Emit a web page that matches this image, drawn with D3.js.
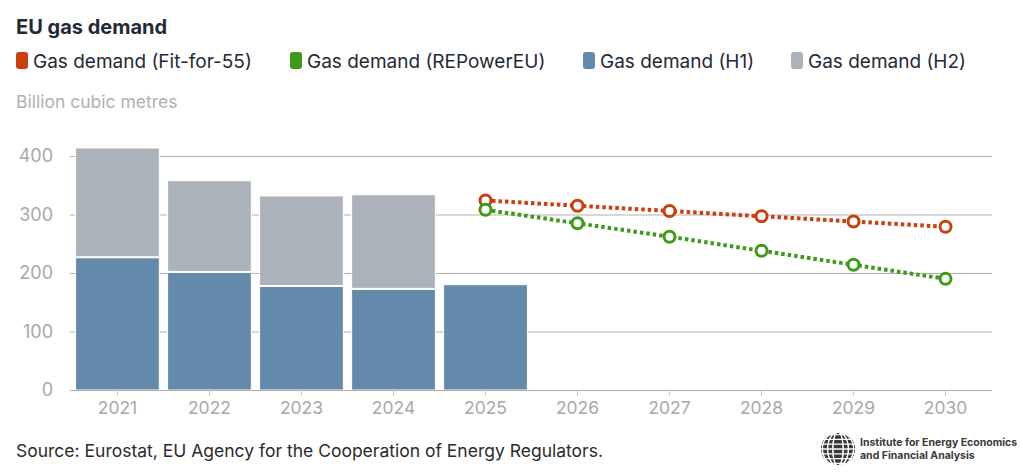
<!DOCTYPE html>
<html><head><meta charset="utf-8">
<script src="https://cdn.jsdelivr.net/npm/d3@7"></script>
<style>body{margin:0;background:#fff;font-family:Inter,"Noto Sans",sans-serif;}</style>
</head><body>
<svg id="c" width="1023" height="475"></svg>
<script>
const years = ["2021","2022","2023","2024","2025","2026","2027","2028","2029","2030"];
const h1Years = ["2021","2022","2023","2024","2025"];
const h1Values = [226, 201, 177, 172, 180];
const h2Years = ["2021","2022","2023","2024"];
const h2Values = [186, 155, 153, 160];
const lineYears = ["2025","2026","2027","2028","2029","2030"];
const fitFor55 = [324, 315, 306, 297, 288, 279];
const rePowerEU = [308, 285, 262, 238, 214, 190];
const yTicks = [0, 100, 200, 300, 400];
const legendLabels = ["Gas demand (Fit-for-55)","Gas demand (REPowerEU)","Gas demand (H1)","Gas demand (H2)"];

const C = {fit:"#c9400e", rep:"#3e9b1a", h1:"#6389ab", h2:"#abb2b9", grid:"#b0b0b0", tick:"#a8a8a8", text:"#1f2a36"};
const svg = d3.select("#c");

svg.append("text").attr("x",16).attr("y",34).attr("font-size",20).attr("font-weight",700).attr("fill",C.text).text("EU gas demand");

const legendX = [16, 290, 583, 791];
const legendCol = [C.fit, C.rep, C.h1, C.h2];
legendLabels.forEach((l,i)=>{
  const g = svg.append("g").attr("transform",`translate(${legendX[i]},0)`);
  g.append("rect").attr("x",0).attr("y",52).attr("width",12).attr("height",17).attr("rx",3).attr("fill",legendCol[i]);
  g.append("text").attr("x",17).attr("y",67.5).attr("font-size",19).attr("fill",C.text).text(l);
});

svg.append("text").attr("x",16).attr("y",108).attr("font-size",17.5).attr("fill","#b0b0b0").text("Billion cubic metres");

const x = d3.scaleBand().domain(years).range([71, 992]).paddingInner(0.09).paddingOuter(0.05);
const y = d3.scaleLinear().domain([0, 400]).range([390, 156]);

// gridlines
const yAxis = d3.axisLeft(y).tickValues(yTicks).tickSize(-(992-70)).tickPadding(16);
const gy = svg.append("g").attr("transform","translate(70,0)").call(yAxis);
gy.select(".domain").remove();
gy.selectAll(".tick line").attr("stroke",C.grid).attr("stroke-width",1);
gy.selectAll(".tick text").attr("font-size",18).attr("fill",C.tick).attr("font-family","Inter").attr("x",-17);
gy.selectAll(".tick").filter(d=>d===0).select("line").remove();

// bars
const h1Map = new Map(h1Years.map((d,i)=>[d,h1Values[i]]));
svg.append("g").selectAll("rect").data(h1Years).join("rect")
  .attr("x",d=>x(d)).attr("width",x.bandwidth())
  .attr("y",d=>y(h1Map.get(d))).attr("height",d=>y(0)-y(h1Map.get(d)))
  .attr("fill",C.h1).attr("stroke","#fff").attr("stroke-width",1);
svg.append("g").selectAll("rect").data(h2Years).join("rect")
  .attr("x",d=>x(d)).attr("width",x.bandwidth())
  .attr("y",(d,i)=>y(h1Map.get(d)+h2Values[i])).attr("height",(d,i)=>y(0)-y(h2Values[i]))
  .attr("transform","translate(0,-1)")
  .attr("fill",C.h2).attr("stroke","#fff").attr("stroke-width",1);

// x axis
const xAxis = d3.axisBottom(x).tickSize(6).tickPadding(6);
const gx = svg.append("g").attr("transform","translate(0,390)").call(xAxis);
gx.select(".domain").attr("stroke","#b0b0b0").attr("d","M70,0.5H992");
gx.selectAll(".tick line").attr("stroke","#c8c8c8");
gx.selectAll(".tick text").attr("font-size",17.5).attr("fill",C.tick).attr("font-family","Inter");

// lines
const cx = d=>x(d)+x.bandwidth()/2;
[[fitFor55,C.fit],[rePowerEU,C.rep]].forEach(([vals,col])=>{
  const pts = lineYears.map((d,i)=>[d,vals[i]]);
  svg.append("path").datum(pts).attr("fill","none").attr("stroke",col).attr("stroke-width",4)
    .attr("stroke-dasharray","3.5,3")
    .attr("d",d3.line().x(p=>cx(p[0])).y(p=>y(p[1])));
  svg.append("g").selectAll("circle").data(pts).join("circle")
    .attr("cx",p=>cx(p[0])).attr("cy",p=>y(p[1])).attr("r",5.5)
    .attr("fill","#fff").attr("stroke",col).attr("stroke-width",3);
});

svg.append("text").attr("x",16).attr("y",457).attr("font-size",17.5).attr("fill","#2b2b2b").text("Source: Eurostat, EU Agency for the Cooperation of Energy Regulators.");

// logo
const lg = svg.append("g").attr("transform","translate(838,449)");
lg.append("circle").attr("r",17).attr("fill","#3a3a3a");
for(let i=-3;i<=3;i++){
  lg.append("line").attr("x1",-17).attr("x2",17).attr("y1",i*4.8).attr("y2",i*4.8).attr("stroke","#fff").attr("stroke-width",1.3);
  lg.append("ellipse").attr("rx",Math.abs(i)*5.2).attr("ry",17).attr("fill","none").attr("stroke","#fff").attr("stroke-width",1.1);
}
svg.append("text").attr("x",860).attr("y",446).attr("font-size",10.5).attr("font-weight",700).attr("fill","#3a3a3a").text("Institute for Energy Economics");
svg.append("text").attr("x",860).attr("y",459).attr("font-size",10.5).attr("font-weight",700).attr("fill","#3a3a3a").text("and Financial Analysis");
</script>
</body></html>
